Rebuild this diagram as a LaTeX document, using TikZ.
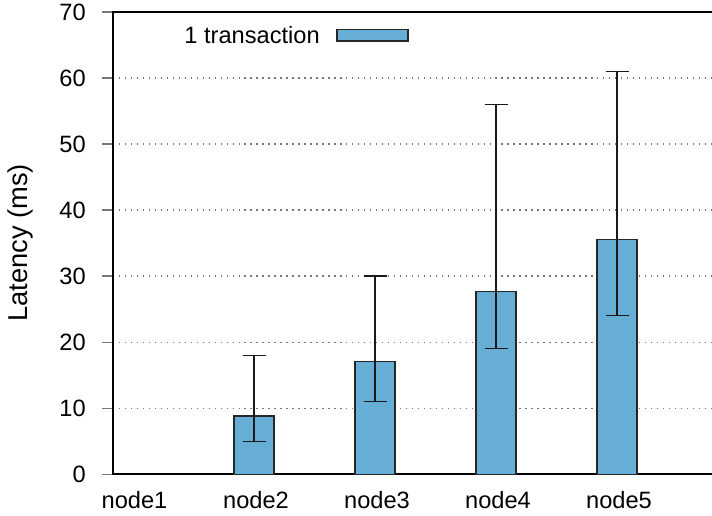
\documentclass[tikz,border=0pt]{standalone}
\usepackage{fontspec}
\setmainfont{Liberation Sans}
\definecolor{barra}{RGB}{103,174,214}
\definecolor{marca}{RGB}{120,120,120}

\begin{document}
\begin{tikzpicture}[x=0.025cm,y=0.165cm,font=\fontsize{16.8}{20}\selectfont,
    rejilla/.style={marca,line width=0.8pt,dash pattern=on 1pt off 3.25pt},
    barrita/.style={draw=black!85,fill=barra,line width=0.8pt},
    error/.style={black!90,line width=0.8pt}]
		%Marco del dibujo
		\useasboundingbox (-113,-6.212) rectangle (599,71.818);
		
		% Rejilla y marcas
		\foreach \v in {10,20,...,60}
		  \draw[rejilla] (0,\v) -- (599,\v);
		\foreach \v in {0,10,...,70} {
		  \draw[marca,line width=0.8pt] (-11,\v) -- (0,\v);
		  \node[anchor=east,inner sep=0] (y\v) at (-27,\v) {\v};
		}
		
		% Ejes
		\draw[line width=1.3pt] (599,70) -- (0,70) -- (0,0) -- (599,0);
		\node[rotate=90,font=\fontsize{19.4}{22}\selectfont] (ylab) at (-93,35) {Latency (ms)};
		
		% Barras con su error
		\foreach \x/\h/\lo/\hi in {141/8.8/5/18, 262/17.1/11/30, 383/27.7/19/56, 504/35.5/24/61} {
		  \draw[barrita] (\x-20,0) rectangle (\x+20,\h);
		  \draw[error] (\x,\lo) -- (\x,\hi);
		  \draw[error] (\x-11.5,\lo) -- (\x+11.5,\lo);
		  \draw[error] (\x-11.5,\hi) -- (\x+11.5,\hi);
		}
		
		% Nombres de los nodos
		\node (n1) at (21.5,-3.94) {node1};
		\node (n2) at (143,-3.94) {node2};
		\node (n3) at (264,-3.94) {node3};
		\node (n4) at (385,-3.94) {node4};
		\node (n5) at (506,-3.94) {node5};
		
		% Leyenda
		\node[anchor=east,inner sep=0] (ley) at (207,66.5) {1 transaction};
		\draw[barrita] (224,65.6) rectangle (295,67.4);
	
\end{tikzpicture}
\end{document}
